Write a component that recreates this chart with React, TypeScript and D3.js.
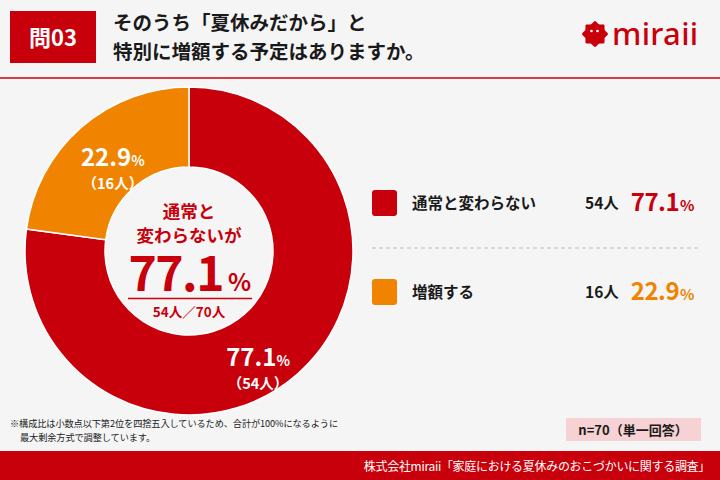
import * as d3 from "d3";

const categories = ["通常と変わらない", "増額する"];
const counts = [54, 16];
const percents = [77.1, 22.9];
const colors = ["#c8000b", "#f08300"];
const total = 70;

const W = 720;
const H = 480;
const FONT = "'Noto Sans CJK JP', 'Noto Sans', sans-serif";
const RED = "#c8000b";

export default function App() {
  const cx = 189;
  const cy = 251;
  const outerR = 164;
  const innerR = 84;

  const pie = d3.pie<number>().sort(null).value((d) => d);
  const arcs = pie(counts);
  const arc = d3.arc<d3.PieArcDatum<number>>().innerRadius(innerR).outerRadius(outerR);

  // label spots on the ring: [angle offset from slice middle, radius]
  const labelPos = [
    { da: 0.19, r: 137 },
    { da: -0.03, r: 112 },
  ];

  const legendY = d3.scalePoint<string>().domain(categories).range([203, 292]);

  // logo blob outline
  const blob = d3
    .lineRadial<number>()
    .curve(d3.curveCardinalClosed)
    .angle((d) => d)
    .radius((_, i) => (i % 2 === 0 ? 13 : 10.5));
  const blobAngles = d3.range(16).map((i) => (i / 16) * Math.PI * 2);

  return (
    <svg
      width={W}
      height={H}
      style={{ position: "absolute", left: 0, top: 0, fontFamily: FONT }}
    >
      <rect width={W} height={H} fill="#f5f5f5" />

      {/* header */}
      <rect x={10} y={11} width={86} height={52} fill={RED} />
      <text x={53} y={46} fill="#fff" fontSize={22} fontWeight={700} textAnchor="middle">
        問03
      </text>
      <text x={113} y={30} fill="#1a1a1a" fontSize={19.5} fontWeight={700}>
        そのうち「夏休みだから」と
      </text>
      <text x={113} y={59} fill="#1a1a1a" fontSize={19.5} fontWeight={700}>
        特別に増額する予定はありますか。
      </text>
      <line x1={0} x2={W} y1={78} y2={78} stroke={RED} strokeWidth={1.5} />

      {/* logo */}
      <g transform="translate(595,34)">
        <path d={blob(blobAngles) ?? ""} fill={RED} />
        <circle cx={-3.5} cy={-3} r={1.3} fill="#fff" />
        <circle cx={2.5} cy={-3} r={1.3} fill="#fff" />
      </g>
      <text x={612} y={45} fill={RED} fontSize={31} fontWeight={500} fontFamily="'Noto Sans', sans-serif" letterSpacing={0.3}>
        miraii
      </text>

      {/* donut */}
      <g transform={`translate(${cx},${cy})`}>
        {arcs.map((a, i) => (
          <path key={i} d={arc(a) ?? ""} fill={colors[i]} stroke="#fff" strokeWidth={1.5} />
        ))}
        {arcs.map((a, i) => {
          const ang = (a.startAngle + a.endAngle) / 2 + labelPos[i].da;
          const x = Math.sin(ang) * labelPos[i].r;
          const y = -Math.cos(ang) * labelPos[i].r;
          return (
            <g key={`l${i}`} transform={`translate(${x},${y})`} fill="#fff" fontWeight={700} textAnchor="middle">
              <text y={-3} fontSize={24}>
                {percents[i].toFixed(1)}
                <tspan fontSize={14}>%</tspan>
              </text>
              <text y={20} fontSize={14.5}>
                （{counts[i]}人）
              </text>
            </g>
          );
        })}
      </g>

      {/* center text */}
      <g fill={RED} fontWeight={700} textAnchor="middle">
        <text x={cx} y={218} fontSize={17.5}>通常と</text>
        <text x={cx} y={242} fontSize={17.5}>変わらないが</text>
        <text x={cx} y={291} fontSize={48} letterSpacing={-1.5}>
          {percents[0].toFixed(1)}
          <tspan fontSize={24} dx={5}>%</tspan>
        </text>
        <line x1={128} x2={252} y1={298.5} y2={298.5} stroke={RED} strokeWidth={1.5} />
        <text x={cx} y={317} fontSize={13.5}>
          {counts[0]}人／{total}人
        </text>
      </g>

      {/* legend */}
      {categories.map((c, i) => {
        const y = legendY(c) ?? 0;
        return (
          <g key={c}>
            <rect x={372} y={y - 13} width={25} height={26} rx={3} fill={colors[i]} />
            <text x={412} y={y + 5.5} fontSize={15.5} fontWeight={700} fill="#1a1a1a">
              {c}
            </text>
            <text x={585} y={y + 5.5} fontSize={15.5} fontWeight={700} fill="#1a1a1a">
              {counts[i]}人
            </text>
            <text x={694} y={y + 8} fontSize={24} fontWeight={700} fill={colors[i]} textAnchor="end" letterSpacing={-0.5}>
              {percents[i].toFixed(1)}
              <tspan fontSize={15} dx={1}>%</tspan>
            </text>
          </g>
        );
      })}
      <line x1={372} x2={700} y1={248} y2={248} stroke="#bbb" strokeWidth={1} strokeDasharray="4 3" />

      {/* footnote */}
      <text x={10} y={427} fontSize={9.2} fill="#222" letterSpacing={-0.1}>
        ※構成比は小数点以下第2位を四捨五入しているため、合計が100%になるように
      </text>
      <text x={20} y={441} fontSize={9.2} fill="#222" letterSpacing={-0.1}>
        最大剰余方式で調整しています。
      </text>

      <rect x={566} y={418} width={135} height={23} fill="#f6d2d4" />
      <text x={633} y={434.5} fontSize={13} fontWeight={700} fill="#1a1a1a" textAnchor="middle">
        n={total}（単一回答）
      </text>

      {/* footer */}
      <rect x={0} y={451} width={W} height={29} fill={RED} />
      <text x={710} y={470.5} fontSize={12} fill="#fff" textAnchor="end" letterSpacing={-0.3}>
        株式会社miraii「家庭における夏休みのおこづかいに関する調査」
      </text>
    </svg>
  );
}
